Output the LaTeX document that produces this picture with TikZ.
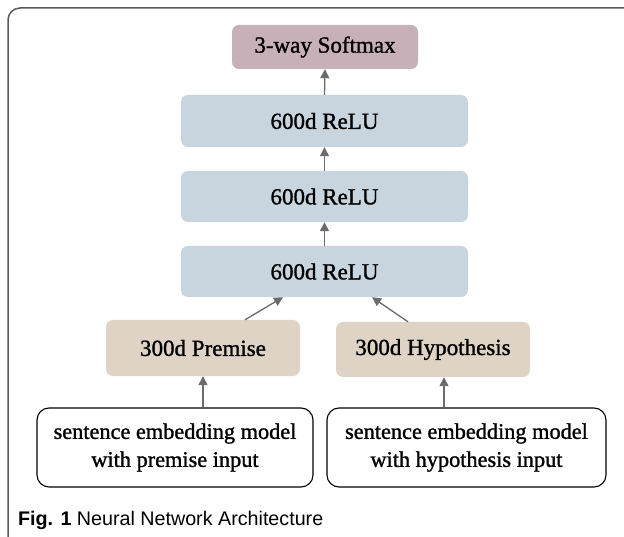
\documentclass[tikz,border=0pt]{standalone}
\usepackage{fontspec}
\setmainfont{Liberation Serif}
\newfontfamily\semib{Liberation Serif}[FakeBold=1.2]
\newfontfamily\capfont{Liberation Sans}
\usetikzlibrary{arrows.meta,calc}
\definecolor{smx}{HTML}{C8B0B8}
\definecolor{relu}{HTML}{C9D5DE}
\definecolor{inp}{HTML}{DFD3C6}
\definecolor{arr}{HTML}{6B6B70}
\definecolor{frm}{HTML}{5A5A5A}
\begin{document}
\begin{tikzpicture}[x=1pt,y=-1pt,
  layer/.style={rounded corners=7pt, inner sep=0pt, font=\semib\fontsize{23}{28}\selectfont},
  sent/.style={draw=black, line width=1.1pt, rounded corners=12pt, fill=white, inner sep=0pt, align=center, font=\semib\fontsize{22.3}{28}\selectfont},
  con/.style={draw=arr, line width=1.3pt, -{Triangle[length=9pt,width=9pt]}}]
\useasboundingbox (0,0) rectangle (624,537);
\fill[white] (0,0) rectangle (624,537);
\draw[frm, line width=1.5pt, rounded corners=12pt] (8,540) -- (8,8) -- (630,8);

\node[layer, fill=smx, minimum width=186pt, minimum height=44pt] (sm) at (325,47) {3-way Softmax};
\node[layer, fill=relu, minimum width=287pt, minimum height=52pt] (r1) at (324.5,121) {600d ReLU};
\node[layer, fill=relu, minimum width=287pt, minimum height=51pt] (r2) at (324.5,196.5) {600d ReLU};
\node[layer, fill=relu, minimum width=287pt, minimum height=51pt] (r3) at (324.5,271.5) {600d ReLU};
\node[layer, fill=inp, minimum width=194pt, minimum height=56pt] (pr) at (203,348) {300d Premise};
\node[layer, fill=inp, minimum width=194pt, minimum height=55pt] (hy) at (433,349.5) {300d Hypothesis};
\node[sent, minimum width=276pt, minimum height=79pt] (s1) at (175,447.5) {sentence embedding model\\with premise input};
\node[sent, minimum width=279pt, minimum height=79pt] (s2) at (466.5,447.5) {sentence embedding model\\with hypothesis input};

\draw[con] (r1.north) -- (sm.south);
\draw[con] (r2.north) -- (r1.south);
\draw[con] (r3.north) -- (r2.south);
\draw[con] ($(pr.north)+(42,0)$) -- ($(r3.south)+(-41.5,0)$);
\draw[con] ($(hy.north)+(-25,0)$) -- ($(r3.south)+(47.5,0)$);
\draw[con] (pr.south |- s1.north) -- (pr.south);
\draw[con] ($(hy.south |- s2.north)+(11,0)$) -- ($(hy.south)+(11,0)$);

\node[anchor=base west, inner sep=0pt, font=\capfont\fontsize{19.7}{24}\selectfont] (cap) at (18,525) {\textbf{Fig. 1} Neural Network Architecture};
\end{tikzpicture}
\end{document}
